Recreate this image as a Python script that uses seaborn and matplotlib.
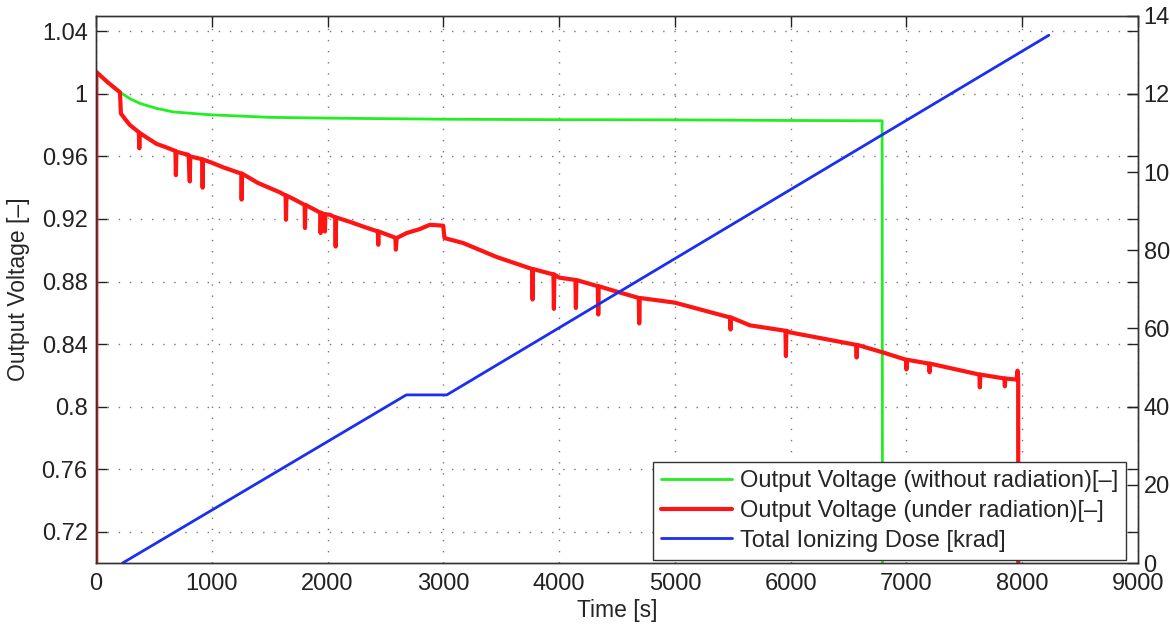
import numpy as np
import seaborn as sns
import pandas as pd
import matplotlib.pyplot as plt
from matplotlib.ticker import FixedLocator, FixedFormatter

# output voltage without radiation (time [s], voltage [-])
green_t = [0, 3, 100, 207, 294, 380, 524, 665, 898, 1000, 1500, 2000, 3000,
           4000, 5000, 6000, 6790, 6800]
green_v = [0.0, 1.0142, 1.0075, 1.0011, 0.9969, 0.9939, 0.9907, 0.9885, 0.9871,
           0.9866, 0.985, 0.9845, 0.9838, 0.9835, 0.9834, 0.983, 0.9828, 0.0]

# output voltage under radiation, incl. the downward glitches
red_t = [0, 3, 100, 207, 215, 250, 294, 370, 374, 378, 450, 524, 600,
         686, 690, 694, 800, 810, 814, 900, 918, 921, 924, 1000, 1100,
         1255, 1258, 1262, 1400, 1589, 1638, 1641, 1645, 1700, 1802, 1805, 1809,
         1900, 1937, 1940, 1944, 1974, 1977, 1981, 2020, 2066, 2070, 2074,
         2200, 2306, 2434, 2438, 2442, 2586, 2590, 2597, 2683, 2798, 2884,
         2999, 3010, 3172, 3460, 3767, 3771, 3775, 3951, 3955, 3959, 4000,
         4141, 4145, 4149, 4334, 4338, 4342, 4500, 4688, 4692, 4696, 5000,
         5477, 5481, 5485, 5648, 5955, 5959, 5963, 6000, 6566, 6570, 6574,
         6800, 6996, 7000, 7004, 7196, 7200, 7204, 7630, 7634, 7638,
         7846, 7850, 7854, 7950, 7960, 7965, 7970]
red_v = [0.0, 1.014, 1.0075, 1.001, 0.9875, 0.984, 0.980, 0.9755, 0.9652, 0.975,
         0.9715, 0.968, 0.966, 0.9635, 0.948, 0.963, 0.961, 0.944, 0.960,
         0.9585, 0.958, 0.940, 0.958, 0.956, 0.953, 0.949, 0.9324, 0.949,
         0.943, 0.937, 0.935, 0.9195, 0.935, 0.933, 0.929, 0.9142, 0.929,
         0.9255, 0.924, 0.911, 0.924, 0.923, 0.912, 0.923, 0.9227, 0.921,
         0.9024, 0.921, 0.918, 0.9152, 0.912, 0.9035, 0.912, 0.908, 0.9004,
         0.9078, 0.911, 0.9136, 0.9163, 0.9157, 0.9078, 0.9046, 0.8957,
         0.888, 0.8685, 0.888, 0.8845, 0.8625, 0.8845, 0.8825, 0.881, 0.8631,
         0.881, 0.877, 0.8589, 0.877, 0.8735, 0.8695, 0.8532, 0.8695, 0.8665,
         0.857, 0.8493, 0.857, 0.852, 0.8485, 0.8323, 0.8485, 0.8474, 0.8395,
         0.8314, 0.8395, 0.8346, 0.830, 0.8238, 0.830, 0.8275, 0.822, 0.8275,
         0.8205, 0.8123, 0.8205, 0.818, 0.813, 0.818, 0.8173, 0.823, 0.818, 0.0]

# total ionizing dose [krad]
dose_t = [230, 2680, 3030, 8230]
dose_v = [0, 43, 43, 135]

xticks = [0, 1000, 2000, 3000, 4000, 5000, 6000, 7000, 8000, 9000]
yticks = [0.72, 0.76, 0.80, 0.84, 0.88, 0.92, 0.96, 1.00, 1.04]
ytick_labels = ['0.72', '0.76', '0.8', '0.84', '0.88', '0.92', '0.96', '1', '1.04']
y2ticks = [0, 20, 40, 60, 80, 100, 120, 140]

labels = ['Output Voltage (without radiation)[–]',
          'Output Voltage (under radiation)[–]',
          'Total Ionizing Dose [krad]']

sns.set_style('white')
plt.rcParams['font.family'] = ['Liberation Sans', 'DejaVu Sans']
plt.rcParams['font.size'] = 17

fig, ax = plt.subplots(figsize=(11.7, 6.28), dpi=100)
ax.set_position([0.08205, 0.1035, 0.8906, 0.8715])

sns.lineplot(x=green_t, y=green_v, ax=ax, color='#22ee22', lw=2.0,
             estimator=None, sort=False, legend=False)
sns.lineplot(x=red_t, y=red_v, ax=ax, color='#ff1414', lw=3.0,
             estimator=None, sort=False, legend=False)

ax2 = ax.twinx()
ax2.set_position([0.08205, 0.1035, 0.8906, 0.8715])
sns.lineplot(x=dose_t, y=dose_v, ax=ax2, color='#1a2ff0', lw=2.0,
             estimator=None, sort=False, legend=False)

ax.set_xlim(0, 9000)
ax.set_ylim(0.70, 1.05)
ax2.set_ylim(0, 140)

ax.xaxis.set_major_locator(FixedLocator(xticks))
ax.yaxis.set_major_locator(FixedLocator(yticks))
ax.yaxis.set_major_formatter(FixedFormatter(ytick_labels))
ax2.yaxis.set_major_locator(FixedLocator(y2ticks))

ax.grid(True, color='#777777', linestyle=(0, (1, 7)), linewidth=1.0)

ax.tick_params(direction='in', length=8, width=1, top=True, right=True,
               labelsize=17, colors='#222222', pad=6)
ax.tick_params(axis='x', pad=7)
ax2.tick_params(direction='in', length=8, width=1, labelsize=17,
                colors='#222222', pad=4)
for a in (ax, ax2):
    for s in a.spines.values():
        s.set_color('#333333')
        s.set_linewidth(1.0)
        s.set_visible(True)

ax.set_xlabel('Time [s]', fontsize=16.5, labelpad=3)
ax.set_ylabel('Output Voltage [–]', fontsize=16.5, labelpad=8)

handles = ax.get_lines()[:2] + ax2.get_lines()[:1]
leg = ax2.legend(handles, labels, loc='lower right',
                 bbox_to_anchor=(0.9885, 0.0055), borderaxespad=0,
                 fontsize=17, fancybox=False, framealpha=1,
                 edgecolor='#333333', handlelength=3.0, handletextpad=0.32,
                 labelspacing=0.33, borderpad=0.35)
leg.get_frame().set_linewidth(1.0)

fig.savefig('out.png', dpi=100)
